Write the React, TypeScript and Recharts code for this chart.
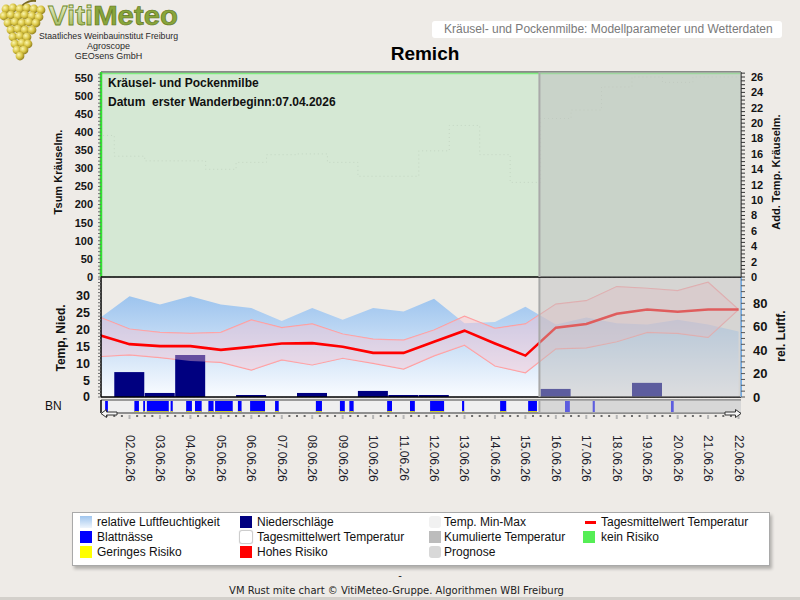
import React from 'react';
import {
  ComposedChart,
  Area,
  Bar,
  Line,
  XAxis,
  YAxis,
  CartesianGrid,
  ReferenceArea,
  ReferenceLine,
} from 'recharts';

// Kalendertage im Juni 2026 (1 = 01.06.)
const tage = [1, 2, 3, 4, 5, 6, 7, 8, 9, 10, 11, 12, 13, 14, 15, 16, 17, 18, 19, 20, 21, 22];

// relative Luftfeuchtigkeit [%]
const luftfeuchte = [67, 86, 79, 86, 79, 76, 65, 76, 66, 76, 73, 84, 63, 64, 77, 62, 68, 63, 62, 66, 62, 56];

// Temperatur [°C]
const tempMax = [23.8, 20.2, 19.2, 18.9, 19.2, 22.9, 20.6, 21.7, 18.7, 17.2, 16.9, 19.9, 24.0, 20.4, 21.7, 27.6, 28.6, 32.8, 32.3, 31.6, 34.1, 26.0];
const tempMittel = [18.4, 15.7, 15.1, 15.1, 14.0, 14.9, 15.9, 16.0, 14.9, 13.1, 13.1, 16.4, 19.7, 15.9, 12.3, 20.6, 21.7, 24.7, 26.0, 25.3, 26.0, 26.0];
const tempMin = [12.0, 12.5, 11.7, 10.7, 10.3, 8.0, 11.0, 9.5, 11.5, 10.0, 8.3, 12.2, 15.4, 9.2, 7.2, 14.3, 14.6, 16.4, 19.2, 18.9, 17.7, 26.0];

// Niederschlag [mm/Tag]
const niederschlag = [0, 7.4, 1.2, 12.5, 0, 0.6, 0, 1.2, 0, 1.8, 0.6, 0.6, 0, 0, 0, 2.4, 0, 0, 4.2, 0, 0, 0];

// Blattnässe-Perioden (Beginn / Ende in Tagen)
const blattnaesseVon = [1.2, 2.16, 2.45, 2.57, 3.35, 3.86, 4.15, 4.59, 4.81, 5.56, 5.96, 6.78, 8.12, 8.91, 9.22, 10.46, 11.21, 11.87, 12.92, 14.17, 15.09, 16.3, 17.21, 19.78];
const blattnaesseBis = [1.29, 2.31, 2.51, 3.29, 3.42, 4.05, 4.37, 4.76, 5.39, 5.68, 6.45, 6.9, 8.32, 9.07, 9.36, 10.62, 11.37, 12.33, 12.99, 14.37, 15.38, 16.46, 17.28, 19.87];
const blattnaesseRisiko = [false, true, true, true, true, true, true, true, true, true, true, true, true, true, true, true, true, true, true, true, true, false, false, false];

// Zeitachse und Prognosebeginn
const xMin = 1.064;
const xMax = 22.08;
const prognoseStart = 15.46;
const keinRisikoNiveau = 562;

const rows = tage.map((tag, i) => ({
  tag,
  rf: luftfeuchte[i],
  tmax: tempMax[i],
  tmit: tempMittel[i],
  tmin: tempMin[i],
  n: niederschlag[i],
}));

const reihe = (von: number, bis: number, schritt: number) => {
  const out: number[] = [];
  for (let i = 0; von + i * schritt <= bis + 1e-9; i++) out.push(+(von + i * schritt).toFixed(3));
  return out;
};

const rasterTage = tage.filter((t) => t >= xMin);
const viertelTage = reihe(1.25, 22, 0.25);

const FONT = '"Liberation Sans", Arial, sans-serif';
const zahl = (size: number) => ({ fontFamily: FONT, fontWeight: 700, fontSize: size, fill: '#141414' });

const datum = (v: number) => `${String(v).padStart(2, '0')}.06.26`;

const ZeitTick = (props: any) => {
  const { x, y, payload } = props;
  const v = payload.value as number;
  const ganzerTag = Math.abs(v - Math.round(v)) < 1e-6;
  if (!ganzerTag) return <rect x={x - 1} y={y + 2} width={2} height={2} fill="#6b6b6b" />;
  return (
    <g>
      <rect x={x - 1} y={y + 2} width={2} height={4} fill="#b5b5b5" />
      <text
        transform={`translate(${x},${y + 22}) rotate(90)`}
        textAnchor="start"
        dominantBaseline="central"
        fontSize={12}
        fontFamily={FONT}
        fill="#1c1c2a"
      >
        {datum(v)}
      </text>
    </g>
  );
};

// unsichtbare Achsen (nur Skala, kein Platzbedarf)
const stilleX = (ticks: number[]) => (
  <XAxis
    dataKey="tag"
    type="number"
    domain={[xMin, xMax]}
    allowDataOverflow
    ticks={ticks}
    interval={0}
    height={0}
    tick={false}
    tickLine={false}
    axisLine={false}
  />
);
const stilleY = (id: string | number, domain: number[], ticks?: number[]) => (
  <YAxis
    yAxisId={id}
    domain={domain}
    ticks={ticks}
    interval={0}
    width={0}
    tick={false}
    tickLine={false}
    axisLine={false}
  />
);

// leere Linie, damit eine Achse ohne eigene Reihe eine Skala erhält
const traeger = (id: string | number) => (
  <Line
    yAxisId={id}
    dataKey={() => 0}
    stroke="transparent"
    strokeWidth={0}
    dot={false}
    activeDot={false}
    legendType="none"
    isAnimationActive={false}
  />
);

// Prognosezeitraum als halbtransparente Abdeckung
const prognose = (yAxisId: string | number, top: number) => [
  <ReferenceArea
    key="prog"
    yAxisId={yAxisId}
    x1={prognoseStart}
    x2={xMax}
    y1={0}
    y2={top}
    fill="rgb(190,190,190)"
    fillOpacity={0.49}
    stroke="none"
    ifOverflow="visible"
    zIndex={1000}
  />,
  <ReferenceLine
    key="progRand"
    yAxisId={yAxisId}
    x={prognoseStart}
    stroke="#a9a9a9"
    strokeWidth={2}
    ifOverflow="visible"
    zIndex={1001}
  />,
];

const Logo = () => {
  const beeren: [number, number][] = [
    [6, 9], [13, 8], [20, 9], [27, 8], [34, 9], [41, 10],
    [4, 16], [11, 15], [18, 16], [25, 15], [32, 16], [39, 17],
    [8, 23], [15, 22], [22, 23], [29, 22], [36, 23],
    [11, 30], [18, 29], [25, 30], [32, 30],
    [13, 37], [20, 36], [27, 37],
    [15, 44], [22, 43], [28, 44],
    [17, 50], [24, 50],
    [20, 56],
  ];
  return (
    <svg width={190} height={64} style={{ position: 'absolute', left: 0, top: 0 }}>
      <defs>
        <radialGradient id="beere" cx="35%" cy="35%" r="70%">
          <stop offset="0%" stopColor="#fbf6b0" />
          <stop offset="55%" stopColor="#d9c543" />
          <stop offset="100%" stopColor="#8c7a1c" />
        </radialGradient>
        <linearGradient id="viti" x1="0" y1="0" x2="0" y2="1">
          <stop offset="0%" stopColor="#f2f6dc" />
          <stop offset="100%" stopColor="#97b04a" />
        </linearGradient>
      </defs>
      <path d="M22 6 Q28 0 36 1" stroke="#7a6a20" strokeWidth={2} fill="none" />
      {beeren.map(([cx, cy], i) => (
        <circle key={i} cx={cx} cy={cy} r={4.4} fill="url(#beere)" />
      ))}
      <text x={48} y={24.8} fontFamily={FONT} fontWeight={700} fontSize={27} textLength={130} lengthAdjust="spacingAndGlyphs">
        <tspan fill="url(#viti)" stroke="#6f8a2a" strokeWidth={0.8}>Viti</tspan>
        <tspan fill="#88a53a" stroke="#5c7322" strokeWidth={0.6}>Meteo</tspan>
      </text>
      <text x={39} y={39} fontFamily={FONT} fontSize={9} fill="#2a2a2a" textLength={139} lengthAdjust="spacingAndGlyphs">
        Staatliches Weinbauinstitut Freiburg
      </text>
      <text x={108.5} y={48.8} fontFamily={FONT} fontSize={9} fill="#2a2a2a" textAnchor="middle">Agroscope</text>
      <text x={108.5} y={58.6} fontFamily={FONT} fontSize={9} fill="#2a2a2a" textAnchor="middle">GEOsens GmbH</text>
    </svg>
  );
};

const DrehText = ({ x, y, text, size }: { x: number; y: number; text: string; size: number }) => (
  <div
    style={{
      position: 'absolute',
      left: x,
      top: y,
      transform: 'translate(-50%, -50%) rotate(-90deg)',
      fontFamily: FONT,
      fontWeight: 700,
      fontSize: size,
      color: '#111',
      whiteSpace: 'nowrap',
      lineHeight: 1,
    }}
  >
    {text}
  </div>
);

const legende = [
  { text: 'relative Luftfeuchtigkeit', spalte: 0, zeile: 0, stil: { background: 'linear-gradient(#9fc5ee, #eef5fd)' } },
  { text: 'Niederschläge', spalte: 1, zeile: 0, stil: { background: '#000080' } },
  { text: 'Temp. Min-Max', spalte: 2, zeile: 0, stil: { background: '#f1f1f1', borderRadius: 3 } },
  { text: 'Tagesmittelwert Temperatur', spalte: 3, zeile: 0, linie: true, stil: { background: '#ff0000' } },
  { text: 'Blattnässe', spalte: 0, zeile: 1, stil: { background: '#0000ff' } },
  { text: 'Tagesmittelwert Temperatur', spalte: 1, zeile: 1, stil: { background: '#ffffff', boxShadow: '0 0 1px 0.5px #c8c8c8', borderRadius: 2 } },
  { text: 'Kumulierte Temperatur', spalte: 2, zeile: 1, stil: { background: '#bcbcbc' } },
  { text: 'kein Risiko', spalte: 3, zeile: 1, stil: { background: '#55ee55' } },
  { text: 'Geringes Risiko', spalte: 0, zeile: 2, stil: { background: '#ffff00' } },
  { text: 'Hohes Risiko', spalte: 1, zeile: 2, stil: { background: '#ff0000' } },
  { text: 'Prognose', spalte: 2, zeile: 2, stil: { background: '#d8d8d8', borderRadius: 3 } },
];
const legSymbolX = [7, 167, 356, 510];
const legTextX = [24, 184, 371, 528];

const Legende = () => (
  <div
    style={{
      position: 'absolute',
      left: 72,
      top: 512,
      width: 696,
      height: 52,
      background: '#fff',
      border: '1px solid #a9a9a9',
      boxShadow: '2px 3px 3px rgba(0,0,0,0.25)',
      fontFamily: FONT,
      fontSize: 12,
      color: '#111',
    }}
  >
    {legende.map((e, i) => {
      const cy = 9 + e.zeile * 15;
      return (
        <React.Fragment key={i}>
          <div
            style={{
              position: 'absolute',
              left: e.linie ? legSymbolX[e.spalte] + 2 : legSymbolX[e.spalte],
              top: e.linie ? cy - 1.5 : cy - 6,
              width: e.linie ? 11 : 12,
              height: e.linie ? 3 : 12,
              ...e.stil,
            }}
          />
          <div style={{ position: 'absolute', left: legTextX[e.spalte], top: cy - 7, lineHeight: '14px', whiteSpace: 'nowrap' }}>
            {e.text}
          </div>
        </React.Fragment>
      );
    })}
  </div>
);

export default function App() {
  return (
    <div
      style={{
        position: 'absolute',
        left: 0,
        top: 0,
        width: 800,
        height: 600,
        background: '#eeebe7',
        overflow: 'hidden',
        fontFamily: FONT,
      }}
    >
      <Logo />

      <div
        style={{
          position: 'absolute',
          left: 432,
          top: 21,
          width: 350,
          height: 17,
          background: '#fff',
          borderRadius: 3,
          fontSize: 12,
          lineHeight: '17px',
          color: '#7a7a7a',
          paddingLeft: 12,
          boxSizing: 'border-box',
          whiteSpace: 'nowrap',
        }}
      >
        Kräusel- und Pockenmilbe: Modellparameter und Wetterdaten
      </div>

      <div
        style={{
          position: 'absolute',
          left: 325,
          width: 200,
          top: 44,
          textAlign: 'center',
          fontSize: 19,
          fontWeight: 700,
          lineHeight: '19px',
          color: '#000',
        }}
      >
        Remich
      </div>

      {/* Wetterdaten: Temperatur, Niederschlag, Luftfeuchte */}
      <div style={{ position: 'absolute', left: 0, top: 267 }}>
        <ComposedChart
          width={800}
          height={140}
          data={rows}
          margin={{ top: 10, right: 19, bottom: 10, left: 61 }}
          barCategoryGap={0}
          barGap={0}
        >
          <defs>
            <linearGradient id="rfVerlauf" x1="0" y1="0" x2="0" y2="1">
              <stop offset="0%" stopColor="#9dc4ee" />
              <stop offset="100%" stopColor="#fafcff" />
            </linearGradient>
          </defs>
          <CartesianGrid yAxisId="tempRaster" stroke="#d6d6d6" strokeDasharray="2 2" />
          {stilleX(rasterTage)}
          <YAxis
            yAxisId="temp"
            domain={[0, 35.64]}
            ticks={reihe(0, 35, 1)}
            interval={0}
            tickFormatter={(v: number) => (v % 5 === 0 && v <= 30 ? String(v) : '')}
            width={40}
            tickSize={3}
            tickMargin={8}
            tick={zahl(12.5)}
            tickLine={{ stroke: '#6a6a6a' }}
            axisLine={{ stroke: '#000', strokeWidth: 1.5 }}
          />
          {stilleY('tempRaster', [0, 35.64], [10, 20, 30])}
          <YAxis
            yAxisId="rf"
            orientation="right"
            domain={[0, 102.5]}
            ticks={reihe(0, 100, 5)}
            interval={0}
            tickFormatter={(v: number) => (v % 20 === 0 && v <= 80 ? String(v) : '')}
            width={40}
            tickSize={4}
            tickMargin={8}
            tick={zahl(13)}
            tickLine={{ stroke: '#555' }}
            axisLine={{ stroke: '#72aae2', strokeWidth: 2 }}
          />
          {traeger('tempRaster')}
          <Area
            yAxisId="rf"
            dataKey="rf"
            type="linear"
            stroke="none"
            fill="url(#rfVerlauf)"
            fillOpacity={1}
            dot={false}
            activeDot={false}
            isAnimationActive={false}
            zIndex={100}
          />
          <Line yAxisId="temp" dataKey="tmax" type="linear" stroke="#ff9c9c" strokeWidth={1.2} dot={false} isAnimationActive={false} zIndex={150} />
          <Line yAxisId="temp" dataKey="tmin" type="linear" stroke="#ff9c9c" strokeWidth={1.2} dot={false} isAnimationActive={false} zIndex={150} />
          <Bar yAxisId="temp" dataKey="n" fill="#000080" isAnimationActive={false} zIndex={300} />
          <Area
            yAxisId="temp"
            dataKey={(d: any) => [d.tmin, d.tmax]}
            type="linear"
            stroke="none"
            fill="#fcc0cc"
            fillOpacity={0.4}
            dot={false}
            activeDot={false}
            isAnimationActive={false}
            zIndex={350}
          />
          <Line yAxisId="temp" dataKey="tmit" type="linear" stroke="#ff0000" strokeWidth={2.6} dot={false} isAnimationActive={false} zIndex={400} />
          <ReferenceLine yAxisId="temp" y={0} stroke="#000" strokeWidth={1.5} ifOverflow="visible" zIndex={450} />
          {prognose('temp', 35.64)}
        </ComposedChart>
      </div>

      {/* Modellparameter Kräuselmilbe */}
      <div style={{ position: 'absolute', left: 0, top: 62 }}>
        <ComposedChart width={800} height={225} data={rows} margin={{ top: 10, right: 19, bottom: 10, left: 61 }}>
          <CartesianGrid yAxisId="tsumRaster" stroke="#e9f2e9" strokeDasharray="2 3" fill="#d5e8d4" fillOpacity={1} />
          {stilleX(rasterTage)}
          <YAxis
            yAxisId="tsum"
            domain={[0, 566]}
            ticks={reihe(0, 560, 10)}
            interval={0}
            tickFormatter={(v: number) => (v % 50 === 0 ? String(v) : '')}
            width={40}
            tickSize={3}
            tickMargin={5}
            tick={zahl(11)}
            tickLine={{ stroke: '#6a6a6a' }}
            axisLine={{ stroke: '#33dd33', strokeWidth: 2.5 }}
          />
          {stilleY('tsumRaster', [0, 566], reihe(50, 550, 50))}
          <YAxis
            yAxisId="add"
            orientation="right"
            domain={[0, 26.65]}
            ticks={reihe(0, 26.5, 0.5)}
            interval={0}
            tickFormatter={(v: number) => (v % 2 === 0 ? String(v) : '')}
            width={40}
            tickSize={4}
            tickMargin={6}
            tick={zahl(11)}
            tickLine={{ stroke: '#333' }}
            axisLine={{ stroke: '#444', strokeWidth: 1.5 }}
          />
          {traeger('tsum')}
          {traeger('tsumRaster')}
          <Line
            yAxisId="add"
            dataKey="tmit"
            type="step"
            stroke="#c4d6c3"
            strokeWidth={1}
            strokeDasharray="1 3"
            dot={false}
            isAnimationActive={false}
            zIndex={400}
          />
          <ReferenceLine yAxisId="tsum" y={566} stroke="#8a8a8a" strokeWidth={2} ifOverflow="visible" zIndex={450} />
          <ReferenceLine yAxisId="tsum" y={keinRisikoNiveau} stroke="#80ee80" strokeWidth={1.5} zIndex={450} />
          <ReferenceLine yAxisId="tsum" y={0} stroke="#000" strokeWidth={1.5} ifOverflow="visible" zIndex={700} />
          {prognose('add', 26.65)}
        </ComposedChart>
      </div>

      {/* Blattnässe-Streifen und Zeitachse */}
      <div style={{ position: 'absolute', left: 0, top: 390 }}>
        <ComposedChart width={800} height={100} data={rows} margin={{ top: 10, right: 59, bottom: 0, left: 101 }}>
          <XAxis
            dataKey="tag"
            type="number"
            domain={[xMin, xMax]}
            allowDataOverflow
            ticks={viertelTage}
            interval={0}
            tick={<ZeitTick />}
            tickLine={false}
            tickSize={0}
            tickMargin={0}
            height={77}
            axisLine={{ stroke: '#8f8f8f', strokeWidth: 2 }}
          />
          {stilleY('bn', [0, 1])}
          {traeger('bn')}
          <ReferenceArea
            yAxisId="bn"
            x1={xMin}
            x2={xMax}
            y1={0}
            y2={1}
            fill="#efefef"
            fillOpacity={1}
            stroke="none"
            ifOverflow="visible"
            zIndex={50}
          />
          {blattnaesseVon.map((von, i) => (
            <ReferenceArea
              key={`bn${i}`}
              yAxisId="bn"
              x1={von}
              x2={blattnaesseBis[i]}
              y1={0}
              y2={1}
              fill="#0000ff"
              fillOpacity={1}
              stroke="none"
              ifOverflow="visible"
              zIndex={100}
            />
          ))}
          {blattnaesseVon.map((von, i) =>
            blattnaesseRisiko[i] ? (
              <ReferenceArea
                key={`ri${i}`}
                yAxisId="bn"
                x1={von}
                x2={blattnaesseBis[i]}
                y1={0}
                y2={0.14}
                fill="#ffff00"
                fillOpacity={1}
                stroke="none"
                ifOverflow="visible"
                zIndex={110}
              />
            ) : null
          )}
          <ReferenceLine yAxisId="bn" y={1} stroke="#9a9a9a" strokeWidth={2} ifOverflow="visible" zIndex={450} />
          <ReferenceLine yAxisId="bn" x={xMin} stroke="#000" strokeWidth={1.5} ifOverflow="visible" zIndex={450} />
          {prognose('bn', 1)}
        </ComposedChart>
      </div>

      <svg width={800} height={600} style={{ position: 'absolute', left: 0, top: 0, pointerEvents: 'none' }}>
        <path d="M101 413.5 L106.5 409.5 L106.5 412 L117 412 L117 415 L106.5 415 L106.5 417.5 Z" fill="#f5f5f5" stroke="#333" strokeWidth={1} />
        <path d="M741 413.5 L735.5 409.5 L735.5 412 L725 412 L725 415 L735.5 415 L735.5 417.5 Z" fill="#f5f5f5" stroke="#333" strokeWidth={1} />
      </svg>

      {/* Achsentitel */}
      <DrehText x={58} y={172} text="Tsum Kräuselm." size={11} />
      <DrehText x={776} y={172} text="Add. Temp. Kräuselm." size={11} />
      <DrehText x={61} y={338} text="Temp, Nied." size={12} />
      <DrehText x={781} y={336} text="rel. Luftf." size={12} />
      <div style={{ position: 'absolute', left: 45, top: 400, fontSize: 12, lineHeight: '12px', color: '#111' }}>BN</div>

      <div style={{ position: 'absolute', left: 108, top: 77, fontSize: 12, fontWeight: 700, lineHeight: '12px', color: '#111' }}>
        Kräusel- und Pockenmilbe
      </div>
      <div style={{ position: 'absolute', left: 108, top: 96, fontSize: 12, fontWeight: 700, lineHeight: '12px', color: '#111', whiteSpace: 'pre' }}>
        {'Datum  erster Wanderbeginn:07.04.2026'}
      </div>

      <Legende />

      <div style={{ position: 'absolute', left: 0, width: 800, top: 570, textAlign: 'center', fontFamily: '"DejaVu Sans", sans-serif', fontSize: 10, color: '#222' }}>
        -
      </div>
      <div
        style={{
          position: 'absolute',
          left: 0,
          width: 793,
          top: 585,
          textAlign: 'center',
          fontFamily: '"DejaVu Sans", sans-serif',
          fontSize: 10,
          lineHeight: '12px',
          color: '#222',
          whiteSpace: 'nowrap',
        }}
      >
        VM Rust mite chart © VitiMeteo-Gruppe. Algorithmen WBI Freiburg
      </div>
      <div style={{ position: 'absolute', left: 0, top: 597, width: 800, height: 3, background: '#d3d0cb' }} />
    </div>
  );
}
